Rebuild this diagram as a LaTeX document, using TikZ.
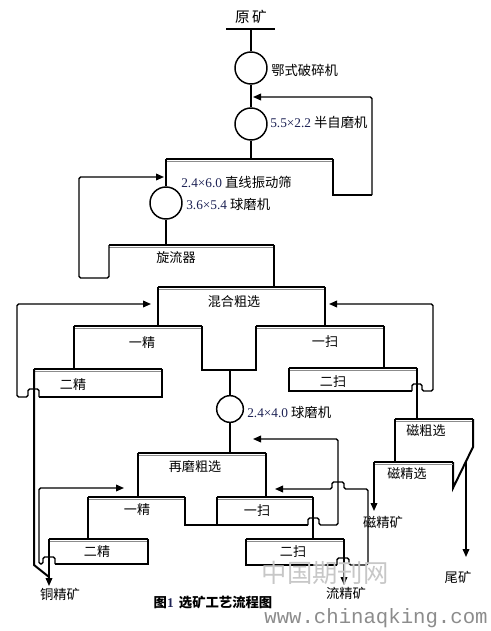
\documentclass[tikz,border=0pt]{standalone}
\usepackage{fontspec}
\setmainfont{Liberation Serif}
\setmonofont{Liberation Mono}
\newfontfamily\cjk{Noto Sans CJK SC}
\usetikzlibrary{arrows.meta}
\definecolor{numc}{RGB}{30,35,85}
\newcommand\mybar[3]{\draw[line width=2.2pt] (#1,#3) -- (#2,#3);
  \draw[line width=1pt, black!45] (#1,#3+2.8) -- (#2,#3+2.8);}
\begin{document}
\begin{tikzpicture}[x=0.75pt,y=-0.75pt,
  ln/.style={line width=1.5pt},
  rl/.style={line width=1.1pt, rounded corners=1.2pt},
  ar/.style={rl,-{Triangle[length=6pt,width=5pt]}},
  lbl/.style={inner sep=0, font=\cjk\fontsize{10}{12}\selectfont},
  blbl/.style={inner sep=0, font=\cjk\fontsize{9.8}{12}\selectfont},
  mill/.style={circle, draw, line width=1.1pt, inner sep=0, minimum size=24pt},
  num/.style={text=numc}]
\useasboundingbox (0,0) rectangle (491,631);

% ---- top: raw ore, crusher, SAG mill
\node[inner sep=0, font=\cjk\fontsize{11}{13}\selectfont] (ore) at (251,17) {原\,矿};
\coordinate (oreL) at (226,29); \coordinate (oreR) at (275,29); \coordinate (oreM) at (251,29);
\draw[ln] (oreL) -- (oreR);
\node[mill] (c1) at (251,68) {};
\node[mill] (c2) at (251,124) {};
\draw[ln] (oreM) -- (c1);
\draw[ln] (c1) -- (c2);
\node[lbl, anchor=west] (t1) at (271,70) {鄂式破碎机};
\node[lbl, anchor=west] (t2) at (270,122) {{\rmfamily\color{numc}5.5×2.2} 半自磨机};

% ---- screen
\mybar{166}{333}{159}
\coordinate (scM) at (251,159);
\draw[ln] (c2) -- (scM);
\draw[ln] (333,159) -- (333,195) -- (372,195);
\draw[ar] (372,195) -- (372,97) -- (253,97);
\node[lbl, anchor=west] (t3) at (181,182) {{\rmfamily\color{numc}2.4×6.0} 直线振动筛};
\node[mill] (c3) at (166,203) {};
\draw[ln] (166,159) -- (c3);
\node[lbl, anchor=west] (t4) at (186,204) {{\rmfamily\color{numc}3.6×5.4} 球磨机};

% ---- cyclone
\mybar{109}{274}{245}
\coordinate (cyM) at (166,245);
\draw[ln] (c3) -- (cyM);
\node[blbl] (cy) at (176,258) {旋流器};
\draw[ar] (109,245) -- (109,278) -- (79,278) -- (79,177) -- (164,177);
\draw[ln] (274,245) -- (274,287);

% ---- bulk rougher
\mybar{158}{325}{287}
\node[blbl] (mr) at (234,302) {混合粗选};
\draw[ln] (158,287) -- (158,326);
\draw[ln] (325,287) -- (325,326);

% ---- cleaner 1 / scavenger 1
\mybar{74}{202}{326}
\node[blbl] (j1) at (142,343) {一精};
\mybar{256}{384}{326}
\node[blbl] (s1) at (325,342) {一扫};
\draw[ln] (74,326) -- (74,369);
\draw[ln] (202,326) -- (202,370) -- (256,370) -- (256,326);
\draw[ln] (384,326) -- (384,368);

% ---- cleaner 2
\mybar{34}{162}{369}
\node[blbl] (j2) at (73,385) {二精};
\draw[ln] (162,369) -- (162,397) -- (39,397);
\draw[ar] (39,397) -- (39,389) -- (28,389) -- (28,397) -- (17,397) -- (17,304) -- (151,304);
\draw[ln] (34,369) -- (34,565) -- (49,577);

% ---- scavenger 2
\mybar{289}{417}{368}
\node[blbl] (s2) at (333,382) {二扫};
\draw[ln] (289,368) -- (289,391) -- (412,391);
\draw[ar] (412,391) -- (412,384) -- (422,384) -- (422,391) -- (433,391) -- (433,304) -- (329,304);
\draw[ln] (417,368) -- (417,419);

% ---- regrind mill
\node[mill, minimum size=20pt] (c4) at (230,409) {};
\coordinate (jn) at (230,370);
\draw[ln] (jn) -- (c4);
\node[lbl, anchor=west] (t5) at (247,412) {{\rmfamily\color{numc}2.4×4.0} 球磨机};
\coordinate (rrM) at (230,453);
\draw[ln] (c4) -- (rrM);

% ---- regrind rougher
\mybar{138}{266}{453}
\node[blbl] (rr) at (195,467) {再磨粗选};
\draw[ln] (138,453) -- (138,497);
\draw[ln] (266,453) -- (266,497);

% ---- regrind cleaner 1 / scavenger 1
\mybar{88}{185}{497}
\node[blbl] (j3) at (137,510) {一精};
\mybar{217}{313}{497}
\node[blbl] (s3) at (257,511) {一扫};
\draw[ln] (88,497) -- (88,539);
\draw[ln] (185,497) -- (185,525) -- (308,525);
\draw[ln] (217,497) -- (217,525);
\draw[ar] (308,525) -- (308,518) -- (319,518) -- (319,525) -- (338,525) -- (338,439) -- (253,439);
\draw[ln] (313,497) -- (313,539);

% ---- regrind cleaner 2
\mybar{49}{148}{539}
\node[blbl] (j4) at (97,552) {二精};
\draw[ln] (148,539) -- (148,564) -- (55,564);
\draw[ar] (55,564) -- (55,557) -- (43,557) -- (43,564) -- (39,564) -- (39,488) -- (124,488);
\draw[ar] (49,539) -- (49,586);
\node[lbl] (cu) at (60,594) {铜精矿};

% ---- regrind scavenger 2
\mybar{246}{344}{539}
\node[blbl] (s4) at (293,552) {二扫};
\draw[ln] (246,539) -- (246,565) -- (337,565);
\draw[ar] (337,565) -- (337,558) -- (349,558) -- (349,565) -- (368,565) -- (368,489) -- (344,489) -- (344,482) -- (332,482) -- (332,489) -- (275,489);
\draw[ar] (344,539) -- (344,585);
\node[lbl] (su) at (346,593) {流精矿};

% ---- magnetic separation
\mybar{395}{473}{419}
\node[blbl] (m1) at (426,431) {磁粗选};
\draw[ln] (395,419) -- (395,462);
\draw[ln] (473,419) -- (473,447) -- (453,488) -- (453,462);
\mybar{374}{453}{462}
\node[blbl] (m2) at (407,474) {磁精选};
\draw[ar] (374,462) -- (374,511);
\node[lbl] (mc) at (383,522) {磁精矿};
\draw[ar] (466,461) -- (466,557);
\node[lbl] (wk) at (458,577) {尾矿};

% ---- title
\node[inner sep=0, font=\cjk\bfseries\fontsize{10}{12}\selectfont] (title) at (213,603)
  {图{\rmfamily\bfseries\color{numc}1}\, 选矿工艺流程图};

% ---- watermark
\node[inner sep=0, text=black!22, font=\cjk\fontsize{19}{21}\selectfont] (wm1) at (325,573) {中国期刊网};
\node[inner sep=0, text=black!45, font=\ttfamily\fontsize{15.5}{17}\selectfont] (wm2) at (376,618) {www.chinaqking.com};
\end{tikzpicture}
\end{document}
